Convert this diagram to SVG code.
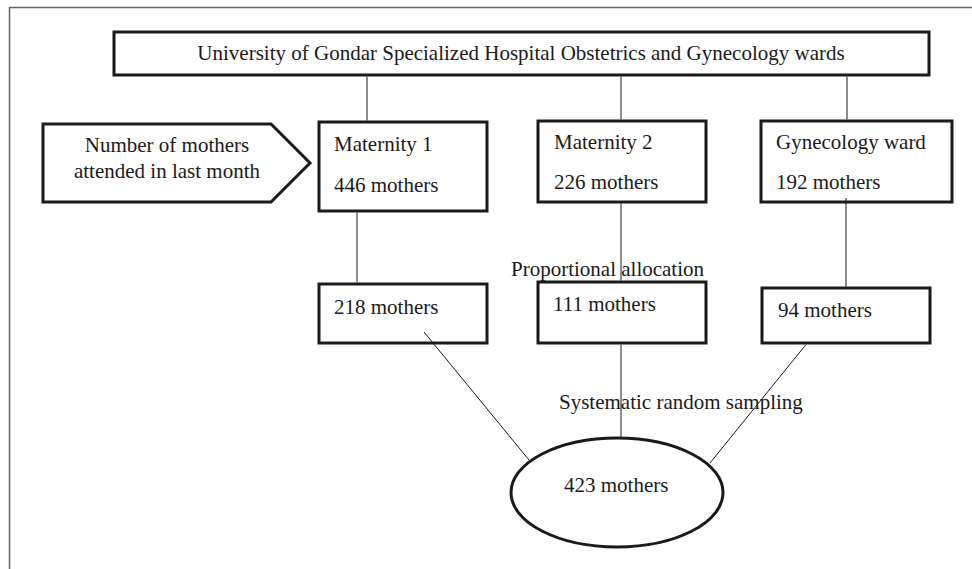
<svg xmlns="http://www.w3.org/2000/svg" width="972" height="569" viewBox="0 0 972 569">
<style>
.box{fill:#fff;stroke:#1a1a1a;stroke-width:3}
.ln{stroke:#1a1a1a;stroke-width:1;fill:none}
text{font-family:"Liberation Serif","Times New Roman",serif;font-size:21px;fill:#1a1a1a}
.c{text-anchor:middle}
</style>
<rect width="972" height="569" fill="#fff"/>
<path d="M9.5 569 V7.5 H972" fill="none" stroke="#666" stroke-width="1.5"/>
<g id="hospital">
<rect class="box" x="114" y="32" width="815" height="43"/>
<text x="521" y="60" class="c">University of Gondar Specialized Hospital Obstetrics and Gynecology wards</text>
</g>
<g id="label-arrow">
<polygon class="box" points="43,124 271,124 310,163 271,202 43,202"/>
<text x="167" y="152" class="c">Number of mothers</text>
<text x="167" y="178" class="c">attended in last month</text>
</g>
<g id="maternity1">
<rect class="box" x="319" y="122" width="168" height="89"/>
<text x="334" y="151">Maternity 1</text>
<text x="334" y="192">446 mothers</text>
</g>
<g id="maternity2">
<rect class="box" x="538" y="121" width="168" height="81"/>
<text x="554" y="149">Maternity 2</text>
<text x="554" y="189">226 mothers</text>
</g>
<g id="gynecology">
<rect class="box" x="761" y="121" width="191" height="81"/>
<text x="776" y="149">Gynecology ward</text>
<text x="776" y="189">192 mothers</text>
</g>
<g id="label-proportional">
<text x="511" y="276">Proportional allocation</text>
</g>
<g id="m218">
<rect class="box" x="319" y="284" width="168" height="59"/>
<text x="334" y="314">218 mothers</text>
</g>
<g id="m111">
<rect class="box" x="538" y="282" width="168" height="61"/>
<text x="553" y="311">111 mothers</text>
</g>
<g id="m94">
<rect class="box" x="762" y="288" width="168" height="55"/>
<text x="778" y="317">94 mothers</text>
</g>
<g id="label-systematic">
<text x="559" y="409">Systematic random sampling</text>
</g>
<g id="total">
<ellipse class="box" cx="617" cy="492.5" rx="106" ry="54.5"/>
<text x="564" y="492">423 mothers</text>
</g>
<g id="connectors">
<line class="ln" x1="367" y1="76.5" x2="367" y2="120.5"/>
<line class="ln" x1="621" y1="76.5" x2="621" y2="119.5"/>
<line class="ln" x1="847" y1="76.5" x2="847" y2="119.5"/>
<line class="ln" x1="357" y1="212.5" x2="357" y2="282.5"/>
<line class="ln" x1="621" y1="203.5" x2="621" y2="280.5"/>
<line class="ln" x1="846" y1="198" x2="846" y2="286.5"/>
<line class="ln" x1="424" y1="332" x2="529" y2="460"/>
<line class="ln" x1="621" y1="344.5" x2="621" y2="438"/>
<line class="ln" x1="806" y1="344.5" x2="710" y2="463"/>
</g>
</svg>
